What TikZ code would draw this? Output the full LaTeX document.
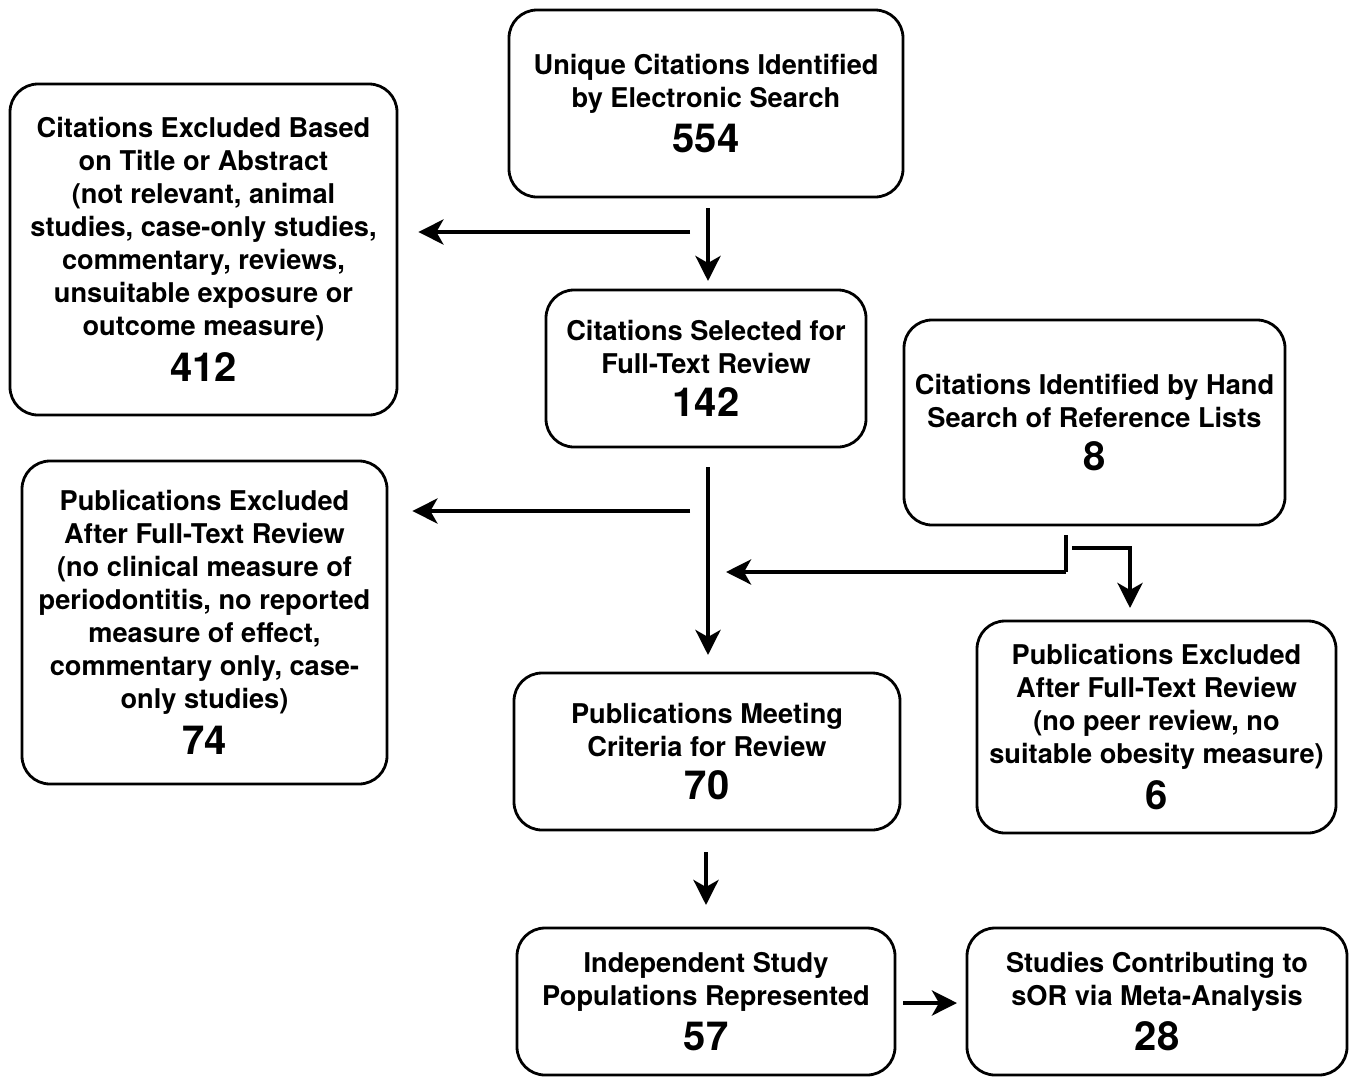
\documentclass[tikz,border=0pt]{standalone}
\usepackage{fontspec}
\setmainfont{TeX Gyre Heros}
\usetikzlibrary{arrows.meta}
\begin{document}
\begin{tikzpicture}[x=1pt,y=-1pt,
  box/.style={draw, line width=2.8pt, rounded corners=28pt, inner sep=0pt, align=center,
    font=\fontsize{27.2}{33}\selectfont\bfseries},
  arr/.style={line width=4.3pt, -{Stealth[length=25pt,width=25pt,inset=7pt]}},
  ln/.style={line width=4.3pt}]
\newcommand{\bignum}[1]{{\fontsize{40}{40}\selectfont #1}}
\useasboundingbox (0,0) rectangle (1352,1077);
\fill[white] (0,0) rectangle (1352,1077);

\node[box, minimum width=394pt, minimum height=187pt] (top) at (706,103.5)
  {Unique Citations Identified\\by Electronic Search\\[10pt]\bignum{554}};
\node[box, minimum width=387pt, minimum height=331pt] (exA) at (203.5,249.5)
  {Citations Excluded Based\\on Title or Abstract\\(not relevant, animal\\studies, case-only studies,\\commentary, reviews,\\unsuitable exposure or\\outcome measure)\\[10pt]\bignum{412}};
\node[box, minimum width=320pt, minimum height=157pt] (full) at (706,368.5)
  {Citations Selected for\\Full-Text Review\\[10pt]\bignum{142}};
\node[box, minimum width=381pt, minimum height=205pt] (hand) at (1094.5,422.5)
  {Citations Identified by Hand\\Search of Reference Lists\\[10pt]\bignum{8}};
\node[box, minimum width=365pt, minimum height=323pt] (exB) at (204.5,622.5)
  {Publications Excluded\\After Full-Text Review\\(no clinical measure of\\periodontitis, no reported\\measure of effect,\\commentary only, case-\\only studies)\\[10pt]\bignum{74}};
\node[box, minimum width=359pt, minimum height=212pt] (exC) at (1156.5,727)
  {Publications Excluded\\After Full-Text Review\\(no peer review, no\\suitable obesity measure)\\[10pt]\bignum{6}};
\node[box, minimum width=386pt, minimum height=157pt] (meet) at (707,751.5)
  {Publications Meeting\\Criteria for Review\\[10pt]\bignum{70}};
\node[box, minimum width=378pt, minimum height=147pt] (indep) at (706,1001.5)
  {Independent Study\\Populations Represented\\[10pt]\bignum{57}};
\node[box, minimum width=380pt, minimum height=147pt] (meta) at (1157,1001.5)
  {Studies Contributing to\\sOR via Meta-Analysis\\[10pt]\bignum{28}};

\coordinate (a1) at (708,208);
\coordinate (a2) at (708,281);
\draw[arr] (a1) -- (a2);
\coordinate (b1) at (690,232);
\draw[arr, shorten >=20pt] (b1) -- (exA.east |- b1);

\coordinate (c1) at (708,467);
\coordinate (c2) at (708,655);
\draw[arr] (c1) -- (c2);
\coordinate (d1) at (690,511);
\draw[arr, shorten >=24pt] (d1) -- (exB.east |- d1);

\coordinate (h1) at (1066,535);
\coordinate (h2) at (1066,572);
\coordinate (h3) at (726,572);
\draw[ln] (h1) -- (h2);
\draw[arr] (h2) -- (h3);
\coordinate (k1) at (1072,548);
\coordinate (k2) at (1130,548);
\coordinate (k3) at (1130,608);
\draw[arr] (k1) -- (k2) -- (k3);

\coordinate (m1) at (706,852);
\coordinate (m2) at (706,905);
\draw[arr] (m1) -- (m2);
\coordinate (n1) at (903,1003);
\coordinate (n2) at (957,1003);
\draw[arr] (n1) -- (n2);
\end{tikzpicture}
\end{document}
